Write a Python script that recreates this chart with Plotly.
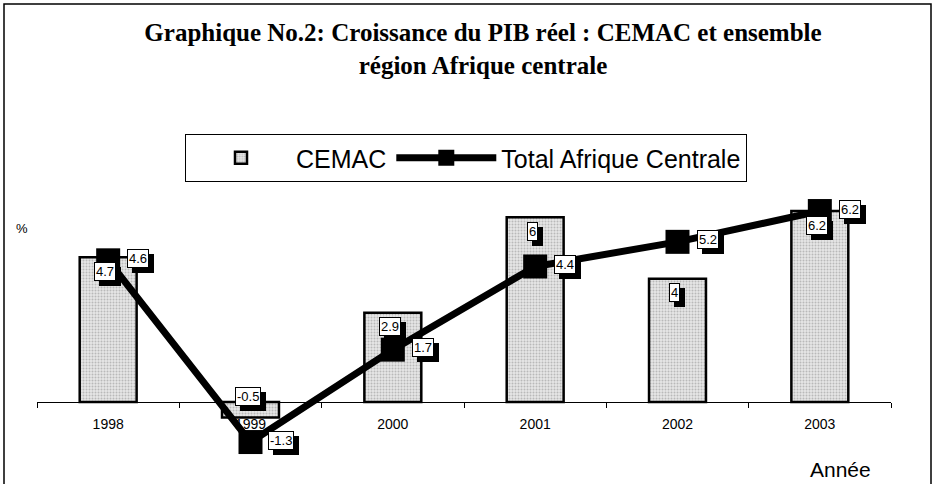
import plotly.graph_objects as go

years = ["1998", "1999", "2000", "2001", "2002", "2003"]
cemac = [4.7, -0.5, 2.9, 6.0, 4.0, 6.2]
total_ac = [4.6, -1.3, 1.7, 4.4, 5.2, 6.2]

title_text = "Graphique No.2: Croissance du PIB réel : CEMAC et ensemble<br>région Afrique centrale"

W, H = 935, 484
ML, MR, MT, MB = 37, 44, 190, 24
pw = W - ML - MR
ph = H - MT - MB
px_per_unit = 30.8
y0_pix = 402
ymax = (y0_pix - MT) / px_per_unit
ymin = -((H - MB) - y0_pix) / px_per_unit

def px_x(p):
    return (p - ML) / pw

def px_y(p):
    return ((H - MB) - p) / ph

fig = go.Figure()
fig.add_trace(go.Bar(
    x=years, y=cemac, name="CEMAC", width=0.4,
    marker=dict(color="#d8d8d8", line=dict(color="black", width=2.5),
                pattern=dict(shape=".", fgcolor="#8c8c8c", bgcolor="#e6e6e6", size=3, solidity=0.35)),
))
fig.add_trace(go.Scatter(
    x=years, y=total_ac, name="Total Afrique Centrale", mode="lines+markers",
    line=dict(color="black", width=7),
    marker=dict(symbol="square", size=24, color="black"),
))

def label(i, y, txt, xs, ys):
    fig.add_annotation(x=i, y=y, xref="x", yref="y", text=txt, showarrow=False,
                       xshift=xs + 5, yshift=ys - 5, font=dict(family="Arial", size=13, color="black"),
                       bgcolor="black", bordercolor="black", borderwidth=1, borderpad=1)
    fig.add_annotation(x=i, y=y, xref="x", yref="y", text=txt, showarrow=False,
                       xshift=xs, yshift=ys, font=dict(family="Arial", size=13, color="black"),
                       bgcolor="white", bordercolor="black", borderwidth=1, borderpad=1)

for i, v in enumerate(cemac):
    label(i, v, f"{v:g}", -3, -14 if v > 0 else 21)
for i, v in enumerate(total_ac):
    label(i, v, f"{v:g}", 30, 2)

fig.add_annotation(x=px_x(22), y=px_y(228), xref="paper", yref="paper", text="%",
                   xanchor="center", yanchor="middle",
                   showarrow=False, font=dict(family="Arial", size=13, color="#000000"))
fig.add_annotation(x=px_x(840), y=px_y(469), xref="paper", yref="paper", text="Année",
                   xanchor="center", yanchor="middle",
                   showarrow=False, font=dict(family="Arial", size=21, color="#000000"))

fig.add_shape(type="rect", xref="paper", yref="paper",
              x0=px_x(4), x1=px_x(931), y0=px_y(500), y1=px_y(4),
              line=dict(color="black", width=1.5), fillcolor="rgba(0,0,0,0)")

fig.update_layout(
    width=W, height=H,
    margin=dict(l=ML, r=MR, t=MT, b=MB),
    paper_bgcolor="white", plot_bgcolor="white",
    title=dict(text=title_text, x=px_x(483), xref="paper", xanchor="center",
               y=1 - 41 / H, yanchor="top",
               font=dict(family="Liberation Serif", size=25, color="black", weight="bold")),
    showlegend=True,
    legend=dict(orientation="h", x=px_x(185), y=px_y(134), xanchor="left", yanchor="top",
                font=dict(family="Arial", size=25, color="black"),
                bordercolor="black", borderwidth=1, bgcolor="white", itemwidth=100,
                tracegroupgap=0),
    xaxis=dict(type="category", anchor="free", position=(0 - ymin) / (ymax - ymin),
               range=[-0.5, 5.5], autorange=False,
               showline=True, linecolor="black", linewidth=1,
               ticks="outside", tickson="boundaries", ticklen=5, tickcolor="black",
               ticklabelstandoff=9,
               showgrid=False, tickfont=dict(family="Arial", size=14, color="black")),
    yaxis=dict(range=[ymin, ymax], autorange=False, visible=False, showgrid=False, zeroline=False),
)

fig.write_html("out.html", config={"displayModeBar": False},
               post_script="document.body.style.margin='0';")
